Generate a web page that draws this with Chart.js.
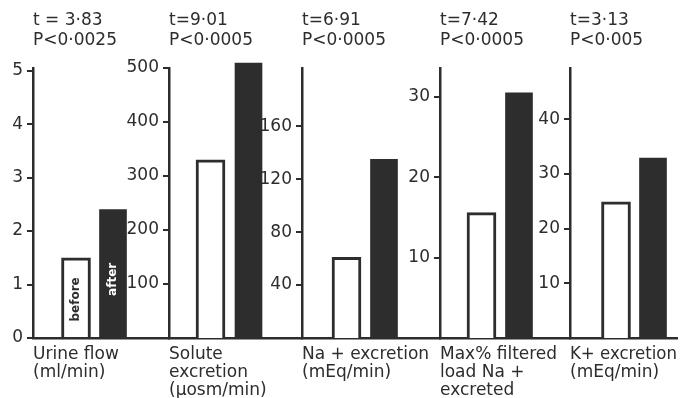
<!DOCTYPE html>
<html><head><meta charset="utf-8">
<script src="https://cdn.jsdelivr.net/npm/chart.js@4.4.1/dist/chart.umd.min.js"></script>
<style>
html,body{margin:0;padding:0;background:#fff;width:683px;height:398px;overflow:hidden;}
canvas{position:absolute;left:0;top:0;}
</style></head><body>
<canvas id="c0" width="683" height="420"></canvas>
<canvas id="c1" width="683" height="420"></canvas>
<canvas id="c2" width="683" height="420"></canvas>
<canvas id="c3" width="683" height="420"></canvas>
<canvas id="c4" width="683" height="420"></canvas>
<script>
// ---- data ----
const categories = ['before', 'after'];
const beforeValues = [1.5, 330, 61, 15.6, 24.9];
const afterValues  = [2.4, 509, 135, 30.5, 32.9];
const panelTitles = [
  ['t = 3·83', 'P<0·0025'],
  ['t=9·01', 'P<0·0005'],
  ['t=6·91', 'P<0·0005'],
  ['t=7·42', 'P<0·0005'],
  ['t=3·13', 'P<0·005']
];
const axisLabels = [
  ['Urine flow', '(ml/min)'],
  ['Solute', 'excretion', '(µosm/min)'],
  ['Na + excretion', '(mEq/min)'],
  ['Max% filtered', 'load Na +', 'excreted'],
  ['K+ excretion', '(mEq/min)']
];
const tickValues = [
  [0, 1, 2, 3, 4, 5],
  [100, 200, 300, 400, 500],
  [40, 80, 120, 160],
  [10, 20, 30],
  [10, 20, 30, 40]
];
const axisMax = [5.05, 500, 204, 33.6, 49.4];

// ---- layout / style ----
const W = 683, H = 420, BASE = 338;
const axisX = [33, 169, 302, 440, 570];
const barCenters = [[43, 80], [41.5, 79.5], [44.5, 82], [41.5, 79], [46, 83]];
const ink = '#2d2d2d';
const FONT = "'DejaVu Sans', sans-serif";
Chart.defaults.font.family = FONT;

const barTextPlugin = {
  id: 'barText',
  afterDatasetsDraw(chart) {
    const ctx = chart.ctx;
    categories.forEach((cat, k) => {
      const el = chart.getDatasetMeta(k).data[0];
      if (!el) return;
      ctx.save();
      ctx.translate(el.x, (el.y + el.base) / 2 + (k === 0 ? 2 : 6));
      ctx.rotate(-Math.PI / 2);
      ctx.font = "bold 12px " + FONT;
      ctx.textAlign = 'center';
      ctx.textBaseline = 'middle';
      ctx.fillStyle = k === 0 ? ink : '#ffffff';
      ctx.fillText(cat, 0, 0);
      ctx.restore();
    });
  }
};

for (let i = 0; i < 5; i++) {
  const left = axisX[i];
  const AXW = Math.min(48, left);
  const right = i < 4 ? axisX[i + 1] : W - 6;
  const w = right - left;
  const [bc, ac] = barCenters[i];
  const gap = ac - bc;
  const nLines = axisLabels[i].length;
  new Chart(document.getElementById('c' + i), {
    type: 'bar',
    data: {
      datasets: categories.map((cat, k) => ({
        label: cat,
        data: [{ x: k, y: (k === 0 ? beforeValues : afterValues)[i] }],
        backgroundColor: k === 0 ? '#ffffff' : ink,
        borderColor: ink,
        borderWidth: k === 0 ? 3 : 0,
        barThickness: k === 0 ? 29 : 27,
        grouped: false,
        clip: false
      }))
    },
    options: {
      responsive: false,
      animation: false,
      layout: { padding: { left: left - AXW, right: W - right, top: 0, bottom: 0 } },
      plugins: {
        legend: { display: false },
        tooltip: { enabled: false },
        title: {
          display: true, text: panelTitles[i], align: 'start', fullSize: false,
          color: ink, font: { size: 17, weight: 'normal', lineHeight: 20 / 17 },
          padding: { top: 11, bottom: 17 }
        }
      },
      scales: {
        x: {
          type: 'linear', offset: false, min: -bc / gap, max: (w - bc) / gap,
          ticks: { display: false },
          grid: { display: false },
          border: { display: true, color: ink, width: 2.5 },
          title: {
            display: true, text: axisLabels[i], align: 'start', color: ink,
            font: { size: 17, lineHeight: 18 / 17 },
            padding: { top: 0, bottom: H - 355 - 9 - 18 * (nLines - 1) }
          },
          afterFit: s => { s.height = H - BASE; }
        },
        y: {
          min: 0, max: axisMax[i],
          afterBuildTicks: a => { a.ticks = tickValues[i].map(v => ({ value: v })); },
          afterFit: s => { s.width = AXW; },
          ticks: { color: ink, font: { size: 17 }, padding: 4 },
          grid: { display: true, drawOnChartArea: false, drawTicks: true, tickLength: 6, color: ink, lineWidth: 2 },
          border: { display: true, color: ink, width: 2.5 }
        }
      }
    },
    plugins: i === 0 ? [barTextPlugin] : []
  });
}
</script>
</body></html>
